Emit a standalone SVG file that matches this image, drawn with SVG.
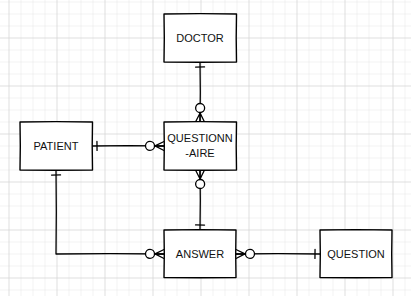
<svg xmlns="http://www.w3.org/2000/svg" width="411" height="296" viewBox="0 0 411 296">
  <style>
    .box { fill: #ffffff; stroke: #000000; stroke-width: 1.4; stroke-linejoin: round; stroke-linecap: round; }
    .lbl { font-family: "Liberation Sans", Arial, sans-serif; font-size: 11px; fill: #111111; text-anchor: middle; }
    .conn { fill: none; stroke: #000000; stroke-width: 1.3; stroke-linecap: round; stroke-linejoin: round; }
    .mk { fill: none; stroke: #000000; stroke-width: 1.3; stroke-linecap: round; }
  </style>
  <defs>
    <pattern id="minor" patternUnits="userSpaceOnUse" x="8.5" y="13.5" width="12" height="12">
      <path d="M0,0 H12 M0,0 V12" fill="none" stroke="#e6e6e6" stroke-width="1"/>
    </pattern>
    <pattern id="major" patternUnits="userSpaceOnUse" x="8.5" y="37.5" width="48" height="48">
      <path d="M0,0 H48 M0,0 V48" fill="none" stroke="#d2d2d2" stroke-width="1"/>
    </pattern>
    <marker id="one" markerUnits="userSpaceOnUse" viewBox="-20 -7 21 14" refX="0" refY="0" markerWidth="21" markerHeight="14" orient="auto-start-reverse">
      <path class="mk" d="M-5,-4.5 L-5,4.5"/>
    </marker>
    <marker id="zeroMany" markerUnits="userSpaceOnUse" viewBox="-20 -7 21 14" refX="0" refY="0" markerWidth="21" markerHeight="14" orient="auto-start-reverse">
      <path class="mk" d="M-9,0 L0,-4.5 M-9,0 L0,4.5 M-9,0 L0,0"/>
      <circle cx="-14" cy="0" r="4.5" fill="#ffffff" stroke="#000000" stroke-width="1.3"/>
    </marker>
  </defs>

  <rect x="0" y="0" width="411" height="296" fill="#ffffff"/>
  <rect x="0" y="0" width="411" height="296" fill="url(#minor)"/>
  <rect x="0" y="0" width="411" height="296" fill="url(#major)"/>

  <g id="connectors">
    <path class="conn" d="M200,62 L200.3,92 L200,122" marker-start="url(#one)" marker-end="url(#zeroMany)"/>
    <path class="conn" d="M92,146 L128,145.6 L164,146" marker-start="url(#one)" marker-end="url(#zeroMany)"/>
    <path class="conn" d="M200,170 L200.3,200 L200,230" marker-start="url(#zeroMany)" marker-end="url(#one)"/>
    <path class="conn" d="M56,170 L56.3,212 L56,254 L110,253.6 L164,254" marker-start="url(#one)" marker-end="url(#zeroMany)"/>
    <path class="conn" d="M236,254 L278,253.6 L320,254" marker-start="url(#zeroMany)" marker-end="url(#one)"/>
  </g>

  <g id="doctor">
    <path class="box" d="M164,14 L200,13.6 L236.5,14 L236.2,38 L236.5,62 L200,62.3 L164,62 L164.3,38 Z"/>
    <text class="lbl" x="200" y="42">DOCTOR</text>
  </g>

  <g id="patient">
    <path class="box" d="M20,122 L56,121.6 L92.5,122 L92.2,146 L92.5,170 L56,170.3 L20,170 L20.3,146 Z"/>
    <text class="lbl" x="56" y="150">PATIENT</text>
  </g>

  <g id="questionnaire">
    <path class="box" d="M164,122 L200,121.6 L236.5,122 L236.2,146 L236.5,170 L200,170.3 L164,170 L164.3,146 Z"/>
    <text class="lbl" x="200" y="142">QUESTIONN</text>
    <text class="lbl" x="200" y="157">-AIRE</text>
  </g>

  <g id="answer">
    <path class="box" d="M164,230 L200,229.6 L236,230 L235.7,254 L236,277.5 L200,277.8 L164,277.5 L164.3,254 Z"/>
    <text class="lbl" x="200" y="258">ANSWER</text>
  </g>

  <g id="question">
    <path class="box" d="M320,230 L356,229.6 L392,230 L391.7,254 L392,277.5 L356,277.8 L320,277.5 L320.3,254 Z"/>
    <text class="lbl" x="356" y="258">QUESTION</text>
  </g>
</svg>
